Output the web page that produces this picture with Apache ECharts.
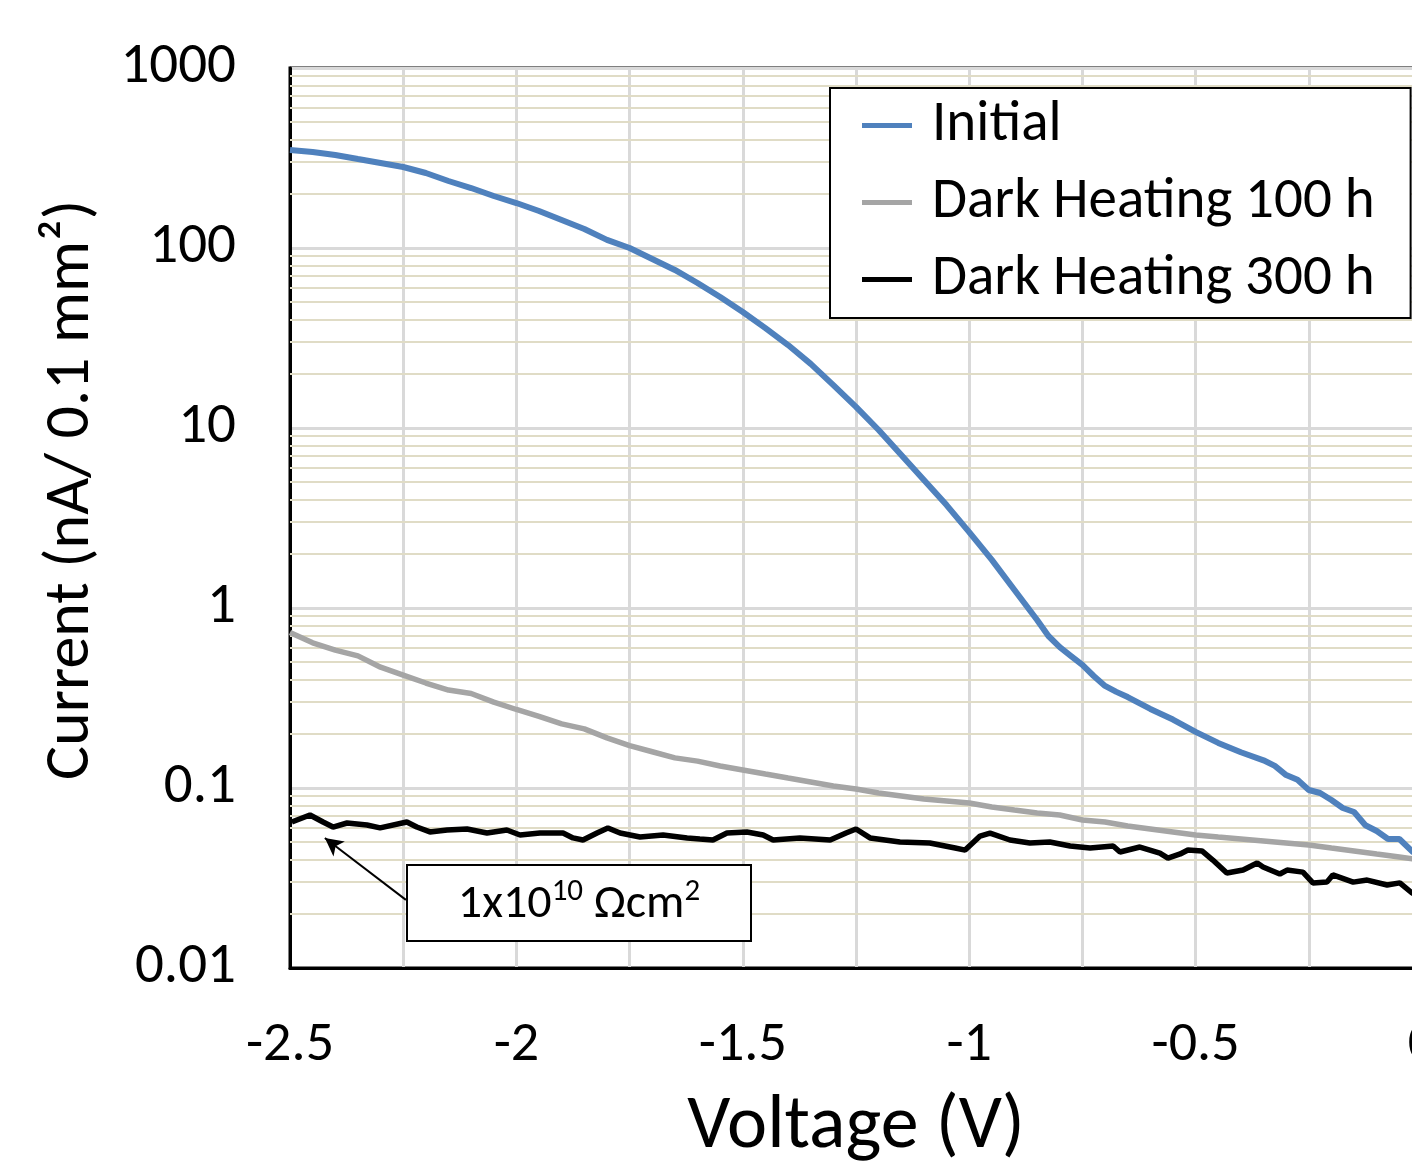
<!DOCTYPE html>
<html>
<head>
<meta charset="utf-8">
<script src="https://cdn.jsdelivr.net/npm/echarts@6/dist/echarts.min.js"></script>
<style>
  html, body { margin: 0; padding: 0; background: #fff; }
  #chart { width: 1412px; height: 1161px; }
</style>
</head>
<body>
<div id="chart"></div>
<script>
var FONT = 'Carlito, Lato, sans-serif';

// 图例 / 曲线名
var seriesNames = ['Initial', 'Dark Heating 100 h', 'Dark Heating 300 h'];
var colors = ['#4f81bd', '#a5a5a5', '#000000'];

// 刻度标签
var xTickLabels = ['-2.5', '-2', '-1.5', '-1', '-0.5', '0'];
var yTickLabels = ['0.01', '0.1', '1', '10', '100', '1000'];

// 对数轴次网格线 (2..9 每个十倍程)
var minorGridValues = [
    0.02, 0.03, 0.04, 0.05, 0.06, 0.07, 0.08, 0.09,
    0.2, 0.3, 0.4, 0.5, 0.6, 0.7, 0.8, 0.9,
    2, 3, 4, 5, 6, 7, 8, 9,
    20, 30, 40, 50, 60, 70, 80, 90,
    200, 300, 400, 500, 600, 700, 800, 900
];

// Initial
var initialV = [-2.5, -2.45, -2.4, -2.35, -2.3, -2.25, -2.2, -2.15, -2.1, -2.05,
    -2, -1.95, -1.9, -1.85, -1.8, -1.75, -1.7, -1.65, -1.6, -1.55,
    -1.5, -1.45, -1.4, -1.35, -1.3, -1.25, -1.2, -1.15, -1.1, -1.05,
    -1, -0.95, -0.9, -0.85, -0.825, -0.8, -0.775, -0.75, -0.725, -0.7,
    -0.675, -0.65, -0.6, -0.55,
    -0.5, -0.45, -0.4, -0.35, -0.325, -0.3, -0.275, -0.25, -0.225, -0.2,
    -0.175, -0.15, -0.125, -0.1, -0.075, -0.05, -0.02, 0];
var initialI = [350, 341.5, 328.6, 312.2, 296.7, 281.8, 261, 235.6, 215.4, 194.5,
    177.8, 160.6, 143.1, 127.5, 111, 100, 86.9, 75.5, 63.9, 53.4,
    44.1, 35.9, 28.9, 22.7, 17.3, 13.1, 9.75, 7.08, 5.14, 3.73,
    2.64, 1.85, 1.26, 0.858, 0.699, 0.606, 0.541, 0.483, 0.419, 0.369,
    0.342, 0.32, 0.275, 0.240,
    0.205, 0.178, 0.158, 0.1425, 0.1327, 0.118, 0.111, 0.0975, 0.0938, 0.0857,
    0.0774, 0.0736, 0.0621, 0.0577, 0.0521, 0.0521, 0.0441, 0.042];

// Dark Heating 100 h
var dh100V = [-2.5, -2.45, -2.4, -2.35, -2.3, -2.25, -2.2, -2.15, -2.1, -2.05,
    -2, -1.95, -1.9, -1.85, -1.8, -1.75, -1.7, -1.65, -1.6, -1.55,
    -1.5, -1.45, -1.4, -1.35, -1.3, -1.25, -1.2, -1.15, -1.1, -1.05,
    -1, -0.95, -0.9, -0.85, -0.8, -0.75, -0.7, -0.65, -0.6, -0.55,
    -0.5, -0.45, -0.4, -0.35, -0.3, -0.25, -0.2, -0.15, -0.1, -0.05, 0];
var dh100I = [0.73, 0.641, 0.584, 0.542, 0.469, 0.424, 0.383, 0.350, 0.335, 0.300,
    0.273, 0.250, 0.227, 0.213, 0.190, 0.172, 0.159, 0.147, 0.141, 0.1325,
    0.126, 0.1196, 0.1136, 0.108, 0.1026, 0.0987, 0.0938, 0.0903, 0.0869, 0.0847,
    0.0825, 0.0784, 0.0754, 0.0726, 0.0708, 0.0664, 0.0647, 0.0615, 0.0592, 0.0570,
    0.0548, 0.0534, 0.0521, 0.0508, 0.0495, 0.0482, 0.0464, 0.0447, 0.043, 0.0414, 0.0398];

// Dark Heating 300 h
var dh300V = [-2.496, -2.456, -2.427, -2.405, -2.374, -2.330, -2.301, -2.242, -2.220, -2.191,
    -2.153, -2.109, -2.065, -2.021, -1.992, -1.948, -1.897, -1.875, -1.853, -1.822,
    -1.798, -1.771, -1.727, -1.676, -1.623, -1.595, -1.566, -1.535, -1.491, -1.455,
    -1.433, -1.374, -1.307, -1.272, -1.250, -1.219, -1.153, -1.087, -1.031, -1.009,
    -0.976, -0.954, -0.910, -0.866, -0.822, -0.777, -0.733, -0.682, -0.667, -0.623,
    -0.579, -0.561, -0.534, -0.517, -0.486, -0.462, -0.431, -0.395, -0.364, -0.351,
    -0.314, -0.298, -0.263, -0.241, -0.210, -0.197, -0.152, -0.121, -0.077, -0.049,
    -0.022, 0];
var dh300I = [0.0647, 0.0708, 0.0647, 0.0607, 0.0639, 0.0623, 0.0600, 0.0647, 0.0607, 0.0570,
    0.0584, 0.0592, 0.0562, 0.0584, 0.0548, 0.0562, 0.0562, 0.0528, 0.0514, 0.0562,
    0.0600, 0.0562, 0.0534, 0.0548, 0.0528, 0.0521, 0.0514, 0.0562, 0.0570, 0.0548,
    0.0514, 0.0528, 0.0514, 0.0562, 0.0592, 0.0528, 0.0501, 0.0495, 0.0464, 0.0452,
    0.0541, 0.0562, 0.0514, 0.0495, 0.0501, 0.0476, 0.0464, 0.0476, 0.0441, 0.0470,
    0.0435, 0.0408, 0.0430, 0.0452, 0.0447, 0.0398, 0.0337, 0.0350, 0.0383, 0.0364,
    0.0333, 0.0350, 0.0341, 0.0297, 0.0300, 0.0329, 0.0300, 0.0308, 0.0289, 0.0297,
    0.0261, 0.025];

// 标注箭头 (从文本框左边到曲线)
var arrowFrom = [-2.244, 0.0239];
var arrowTo = [-2.423, 0.0527];

function pairs(xs, ys) {
    return xs.map(function (x, i) { return [x, ys[i]]; });
}

var myChart = echarts.init(document.getElementById('chart'));

option = {
    animation: false,
    textStyle: { fontFamily: FONT },
    grid: {
        left: 290,
        top: 68,
        width: 1132,
        height: 900,
        outerBoundsMode: 'none',
        containLabel: false,
        show: true,
        borderColor: '#000',
        borderWidth: 3,
        backgroundColor: 'transparent'
    },
    legend: {
        orient: 'vertical',
        left: 830,
        top: 88,
        z: 20,
        data: seriesNames,
        icon: 'rect',
        itemWidth: 50,
        itemHeight: 5,
        itemGap: 20,
        padding: [9, 36, 10, 32],
        backgroundColor: '#fff',
        borderColor: '#000',
        borderWidth: 2,
        borderRadius: 0,
        textStyle: {
            color: '#000',
            fontSize: 57,
            lineHeight: 57,
            fontFamily: FONT,
            padding: [0, 0, 0, 15]
        }
    },
    xAxis: {
        type: 'value',
        min: -2.5,
        max: 0,
        interval: 0.5,
        name: 'Voltage (V)',
        nameLocation: 'middle',
        nameGap: 122,
        nameTextStyle: { fontSize: 76, color: '#000', fontFamily: FONT },
        axisLine: { show: true, onZero: false, lineStyle: { color: '#000', width: 3 } },
        axisTick: { show: false },
        axisLabel: {
            fontSize: 56,
            color: '#000',
            margin: 50,
            fontFamily: FONT,
            formatter: function (v, i) { return xTickLabels[i]; }
        },
        splitLine: { show: true, lineStyle: { color: '#d9d9d9', width: 3 } },
        minorTick: { show: false, splitNumber: 2 },
        minorSplitLine: { show: true, lineStyle: { color: '#d9d9d9', width: 3 } }
    },
    yAxis: {
        type: 'log',
        logBase: 10,
        min: 0.01,
        max: 1000,
        name: 'Current (nA/ 0.1 mm²)',
        nameLocation: 'middle',
        nameGap: 186,
        nameTextStyle: { fontSize: 64, color: '#000', fontFamily: FONT, padding: [0, 0, 0, 56] },
        axisLine: { show: true, onZero: false, lineStyle: { color: '#000', width: 3 } },
        axisTick: { show: false },
        axisLabel: {
            fontSize: 57,
            color: '#000',
            margin: 54,
            fontFamily: FONT,
            formatter: function (v, i) { return yTickLabels[i]; }
        },
        splitLine: { show: true, lineStyle: { color: '#d9d9d9', width: 3 } }
    },
    series: [
        {
            // 次网格线
            name: 'minor',
            type: 'line',
            data: [],
            silent: true,
            z: 1,
            markLine: {
                silent: true,
                z: 1,
                symbol: ['none', 'none'],
                label: { show: false },
                lineStyle: { color: '#e0dcc6', width: 2, type: 'solid' },
                data: minorGridValues.map(function (v) { return { yAxis: v }; })
            }
        },
        {
            name: seriesNames[0],
            type: 'line',
            data: pairs(initialV, initialI),
            showSymbol: false,
            smooth: false,
            z: 4,
            itemStyle: { color: colors[0] },
            lineStyle: { color: colors[0], width: 6 }
        },
        {
            name: seriesNames[1],
            type: 'line',
            data: pairs(dh100V, dh100I),
            showSymbol: false,
            z: 3,
            itemStyle: { color: colors[1] },
            lineStyle: { color: colors[1], width: 5.5 }
        },
        {
            name: seriesNames[2],
            type: 'line',
            data: pairs(dh300V, dh300I),
            showSymbol: false,
            z: 3,
            itemStyle: { color: colors[2] },
            lineStyle: { color: colors[2], width: 5.5 },
            markLine: {
                silent: true,
                z: 3,
                symbol: ['none', 'arrow'],
                symbolSize: [14, 18],
                label: { show: false },
                lineStyle: { color: '#000', width: 2, type: 'solid' },
                data: [[{ coord: arrowFrom }, { coord: arrowTo }]]
            }
        }
    ],
    graphic: [
        {
            type: 'group',
            left: 406,
            top: 864,
            z: 10,
            children: [
                {
                    type: 'rect',
                    z: 10,
                    shape: { x: 0, y: 0, width: 344, height: 76 },
                    style: { fill: '#fff', stroke: '#000', lineWidth: 2 }
                },
                {
                    type: 'text',
                    z: 11,
                    x: 172,
                    y: 40,
                    style: {
                        text: '{a|1x10}{s|10}{a| Ωcm}{s|2}',
                        align: 'center',
                        verticalAlign: 'middle',
                        rich: {
                            a: { fontSize: 48, fontFamily: FONT, fill: '#000', lineHeight: 56 },
                            s: { fontSize: 31, fontFamily: FONT, fill: '#000', lineHeight: 56, verticalAlign: 'top' }
                        }
                    }
                }
            ]
        }
    ]
};

myChart.setOption(option);
</script>
</body>
</html>
